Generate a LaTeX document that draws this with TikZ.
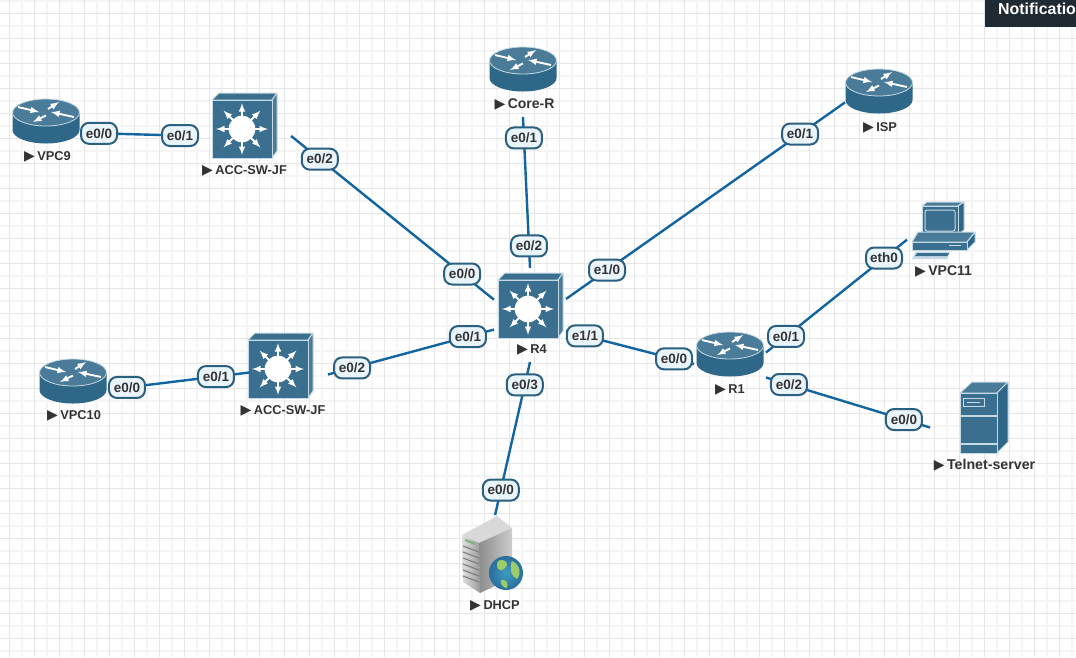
\documentclass[tikz,border=0pt]{standalone}
\usepackage{fontspec}
\setmainfont{Liberation Sans}
\newfontfamily\symfont{DejaVu Sans}
\definecolor{linkblue}{HTML}{1265A0}
\definecolor{devfront}{HTML}{3A6F8F}
\definecolor{devtop}{HTML}{4A7C9A}
\definecolor{devside}{HTML}{2E6788}
\definecolor{devedge}{HTML}{C6DAE6}
\definecolor{portfill}{HTML}{E9F4FB}
\definecolor{portedge}{HTML}{2A5F80}
\definecolor{gridmajor}{HTML}{E6E6E6}
\definecolor{gridminor}{HTML}{F5F5F5}
\definecolor{notebar}{HTML}{1F2A33}
\definecolor{globesea}{HTML}{3E9CC0}
\definecolor{globedeep}{HTML}{2A6E9C}
\definecolor{globeland}{HTML}{9CCB6A}
\newcommand{\tagmark}{{\symfont\fontsize{14}{14}\selectfont ▶}\hspace{2.5pt}}
\tikzset{
  link/.style={draw=linkblue,line width=2.4pt},
  port/.style={fill=portfill,draw=portedge,line width=2pt,rounded corners=8pt,
    inner sep=0pt,minimum width=36pt,minimum height=21pt,text=black!80,
    font=\fontsize{13.5}{14}\selectfont\bfseries},
  devbox/.style 2 args={inner sep=0pt,outer sep=0pt,minimum width=#1pt,minimum height=#2pt},
  devlabel/.style={inner sep=0pt,text=black!80,font=\fontsize{#1}{14}\selectfont\bfseries},
  devlabel/.default=12.8,
  face/.style={draw=devedge,line width=1pt,line join=round},
  whitearrow/.style={white,line width=1.9pt,-latex},
  router/.pic={
    \path[fill=devside] (-33.5,-9.5) -- (-33.5,8) arc[start angle=180,end angle=0,x radius=33.5,y radius=13.5]
      -- (33.5,-9.5) -- cycle;
    \path[fill=devtop,draw=devedge,line width=.8pt] (0,-9.5) ellipse[x radius=33.5,y radius=13.5];
    \draw[whitearrow] (-28,-15) -- (-7,-10);
    \draw[whitearrow] (0,-6.5) -- (-13,0);
    \draw[whitearrow] (2,-13) -- (13,-20);
    \draw[whitearrow] (28,-5) -- (5,-10);
  },
  switchbox/.pic={
    \path[face,fill=devfront] (-30,-29) -- (-23,-36) -- (35,-36) -- (30,-29) -- cycle;
    \path[face,fill=devtop] (30,-29) -- (35,-36) -- (35,22) -- (30,29) -- cycle;
    \path[face,fill=devfront] (-30,-29) rectangle (30,29);
    \foreach \a in {0,45,...,315}
      \draw[whitearrow] (\a:8) -- (\a:26);
    \fill[white] (0,0) circle[radius=13.3];
  },
  pcbox/.pic={
    \path[face,fill=devtop] (-21,-24) -- (-16,-28) -- (21,-28) -- (15,-24) -- cycle;
    \path[face,fill=devside] (15,-24) -- (21,-28) -- (21,0) -- (15,5) -- cycle;
    \path[face,fill=devfront] (-21,-24) rectangle (15,5);
    \path[draw=devedge,line width=1pt,rounded corners=2pt] (-18,-20) rectangle (12,1);
    \path[face,fill=devtop] (-31,12) -- (-25,2) -- (32,2) -- (24,12) -- cycle;
    \path[face,fill=devside] (24,12) -- (32,2) -- (32,12) -- (24,20) -- cycle;
    \path[face,fill=devfront] (-31,12) rectangle (24,20);
    \draw[devedge,line width=1.4pt] (6,15.5) -- (18,15.5);
    \path[fill=devedge] (-27,21.5) -- (7,21.5) -- (4,29) -- (-31,29) -- cycle;
    \path[fill=devfront] (-26,23) -- (6,23) -- (4.5,26) -- (-28,26) -- cycle;
  },
  srvbox/.pic={
    \path[face,fill=devtop] (-24,-24) -- (-12,-35) -- (24,-35) -- (13,-24) -- cycle;
    \path[face,fill=devside] (13,-24) -- (24,-35) -- (24,25) -- (13,36) -- cycle;
    \path[face,fill=devfront] (-24,-24) rectangle (13,36);
    \draw[devedge,line width=1.6pt] (-24,-1) -- (13,-1) (-24,27) -- (13,27);
    \path[draw=devedge,line width=1pt] (-21,-19) rectangle (0,-11);
    \draw[devedge,line width=1pt] (-17,-15) -- (-4,-15);
  },
  dhcpbox/.pic={
    \path[fill=black!15] (-31,-20) -- (4,-39) -- (19,-27) -- (-14,-12) -- cycle;
    \path[left color=black!45,right color=black!20] (-14,-12) -- (19,-27) -- (19,23) -- (-13,38) -- cycle;
    \path[left color=black!12,right color=black!40] (-31,-20) -- (-14,-12) -- (-13,38) -- (-30,27) -- cycle;
    \foreach \s in {-6,0,...,28}
      \draw[black!50,line width=1.2pt] (-30,\s-3) -- (-14,\s+3);
    \draw[green!40!black!50,line width=2pt] (-28,-15) -- (-18,-11);
    \path[inner color=globesea,outer color=globedeep] (13,18) circle[radius=17];
    \path[fill=globeland] (5,6) .. controls (12,3) and (18,8) .. (11,14) .. controls (6,18) and (2,12) .. (5,6);
    \path[fill=globeland] (19,6) .. controls (27,10) and (29,18) .. (24,24) .. controls (18,22) and (16,12) .. (19,6);
    \path[fill=globeland] (8,25) .. controls (13,24) and (16,28) .. (14,33) .. controls (10,33) and (7,29) .. (8,25);
  }
}

\begin{document}
\begin{tikzpicture}[x=1pt,y=-1pt]
    \useasboundingbox (0,0) rectangle (1076,657);
    \fill[white] (0,0) rectangle (1076,657);
    % grid
    \foreach \k in {0,...,43}
      \draw[gridminor,line width=1.2pt] (-3+25*\k,0) -- (-3+25*\k,657);
    \foreach \k in {0,...,26}
      \draw[gridminor,line width=1.2pt] (0,1+25*\k) -- (1076,1+25*\k);
    \foreach \k in {0,...,42}
      \draw[gridmajor,line width=1pt] (9.5+25*\k,0) -- (9.5+25*\k,657);
    \foreach \k in {0,...,25}
      \draw[gridmajor,line width=1pt] (0,13.5+25*\k) -- (1076,13.5+25*\k);
    % notification bar
    \fill[notebar] (985,0) rectangle (1076,27);
    \node[anchor=base west,inner sep=0pt,text=white,font=\fontsize{15.9}{17}\selectfont\bfseries] (notify) at (998,14.5) {Notificatio};
    % devices
    \node[devbox={76}{48}] (VPC9) at (46,122) {};
    \node[devbox={98}{70}] (ACC1) at (242,129) {};
    \node[devbox={72}{94}] (CoreR) at (523,70) {};
    \node[devbox={68}{48}] (ISP) at (879,92) {};
    \node[devbox={72}{60}] (VPC11) at (943,230) {};
    \node[devbox={72}{94}] (R4) at (530,315) {};
    \node[devbox={76}{48}] (VPC10) at (73,382) {};
    \node[devbox={78}{70}] (ACC2) at (289,369) {};
    \node[devbox={72}{48}] (R1) at (730,355) {};
    \node[devbox={108}{80}] (Telnet) at (984,417) {};
    \node[devbox={64}{80}] (DHCP) at (493,555) {};
    \pic at (46,122) {router};
    \pic at (242,129) {switchbox};
    \pic at (523,70) {router};
    \pic at (879,92) {router};
    \pic at (943,230) {pcbox};
    \pic at (528,309) {switchbox};
    \pic at (73,382) {router};
    \pic at (278,369) {switchbox};
    \pic at (730,355) {router};
    \pic at (984,417) {srvbox};
    \pic at (493,555) {dhcpbox};
    % links
    \draw[link] (VPC9.-16.1) -- (ACC1.188.1)
      node[pos=.138,port] (p1a) {e0/0}
      node[pos=.881,port] (p1b) {e0/1};
    \draw[link] (ACC1.-8.1) -- (R4.157.4)
      node[pos=.142,port] (p2a) {e0/2}
      node[pos=.843,port] (p2b) {e0/0};
    \draw[link] (CoreR.south) -- (R4.north)
      node[pos=.139,port] (p3a) {e0/1}
      node[pos=.854,port] (p3b) {e0/2};
    \draw[link] (ISP.197.9) -- (R4.24)
      node[pos=.161,port] (p4a) {e0/1}
      node[pos=.853,port] (p4b) {e1/0};
    \draw[link] (R4.-24) -- (R1.194)
      node[pos=.148,port] (p5a) {e1/1}
      node[pos=.844,port] (p5b) {e0/0};
    \draw[link] (R4.202.6) -- (ACC2.-8.7)
      node[pos=.157,port] (p6a) {e0/1}
      node[pos=.855,port] (p6b) {e0/2};
    \draw[link] (ACC2.185.9) -- (VPC10.-11.9)
      node[pos=.245,port] (p7a) {e0/1}
      node[pos=.885,port] (p7b) {e0/0};
    \draw[link] (R4.south) -- (DHCP.87)
      node[pos=.15,port] (p8a) {e0/3}
      node[pos=.837,port] (p8b) {e0/0};
    \draw[link] (R1.4.8) -- (VPC11.195.5)
      node[pos=.142,port] (p9a) {e0/1}
      node[pos=.837,port] (p9b) {eth0};
    \draw[link] (R1.-32.6) -- (Telnet.191.5)
      node[pos=.14,port] (p10a) {e0/2}
      node[pos=.841,port] (p10b) {e0/0};
    % device names
    \node[devlabel] (lVPC9) at (47.5,156.5) {\tagmark VPC9};
    \node[devlabel] (lACC1) at (244.5,170.5) {\tagmark ACC-SW-JF};
    \node[devlabel=14] (lCoreR) at (524.5,104.5) {\tagmark Core-R};
    \node[devlabel] (lISP) at (880,127.5) {\tagmark ISP};
    \node[devlabel=14] (lVPC11) at (943.5,271.5) {\tagmark VPC11};
    \node[devlabel] (lR4) at (532,349.5) {\tagmark R4};
    \node[devlabel] (lVPC10) at (74,415.5) {\tagmark VPC10};
    \node[devlabel] (lACC2) at (283,410.5) {\tagmark ACC-SW-JF};
    \node[devlabel] (lR1) at (730,389.5) {\tagmark R1};
    \node[devlabel=14.2] (lTelnet) at (984.5,465.5) {\tagmark Telnet-server};
    \node[devlabel] (lDHCP) at (495,605.5) {\tagmark DHCP};
  \end{tikzpicture}
\end{document}
